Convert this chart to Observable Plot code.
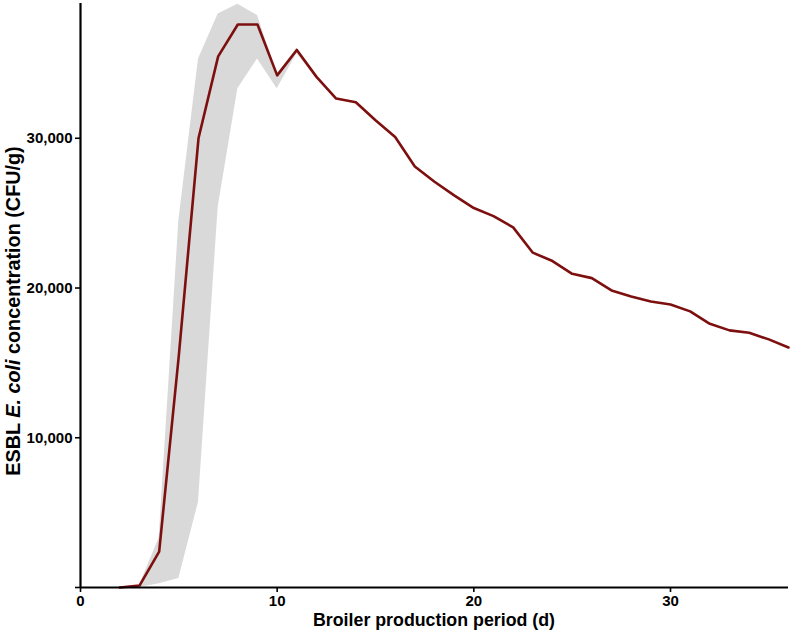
<!DOCTYPE html>
<html>
<head>
<meta charset="utf-8">
<script src="https://cdn.jsdelivr.net/npm/d3@7"></script>
<script src="https://cdn.jsdelivr.net/npm/@observablehq/plot@0.6"></script>
<style>
  html, body { margin: 0; padding: 0; background: #fff; }
  svg { display: block; }
</style>
</head>
<body>
<div id="chart"></div>
<script>
// Broiler production day
const days = [2,3,4,5,6,7,8,9,10,11,12,13,14,15,16,17,18,19,20,21,22,23,24,25,26,27,28,29,30,31,32,33,34,35,36];
// Mean ESBL E. coli concentration (CFU/g)
const conc = [0,130,2400,15500,30000,35470,37600,37600,34200,35900,34100,32650,32400,31200,30080,28120,27100,26190,25340,24800,24050,22360,21800,20950,20660,19840,19440,19100,18900,18440,17610,17170,17010,16570,16030];

// Uncertainty band
const bandDays = [2,3,4,5,6,7,8,9,10,11,12];
const bandLow  = [0,0,250,600,5700,25400,33300,35300,33300,35650,34000];
const bandHigh = [0,150,3300,24500,35300,38300,38950,38200,34300,36000,34200];

const xTicks = [0,10,20,30];
const yTicks = [0,10000,20000,30000];

const lineData = days.map((d,i) => ({day: d, value: conc[i]}));
const bandData = bandDays.map((d,i) => ({day: d, lo: bandLow[i], hi: bandHigh[i]}));

const fmt = d3.format(",");

const plot = Plot.plot({
  width: 792,
  height: 632,
  marginLeft: 80,
  marginRight: 4,
  marginTop: 3,
  marginBottom: 45,
  style: {fontFamily: "'Liberation Sans', Arial, sans-serif", fontSize: "15px", fontWeight: "bold", color: "black", background: "white"},
  x: {domain: [0, 36]},
  y: {domain: [0, 39000]},
  marks: [
    Plot.areaY(bandData, {x: "day", y1: "lo", y2: "hi", fill: "#d9d9d9"}),
    Plot.lineY(lineData, {x: "day", y: "value", stroke: "#7e0f0f", strokeWidth: 2.6}),
    Plot.axisX({ticks: xTicks, tickSize: 5, tickPadding: 3, strokeWidth: 1.6, fontSize: 15, fontWeight: "bold", label: null}),
    Plot.axisY({ticks: yTicks, tickSize: 5, tickPadding: 3, strokeWidth: 1.6, fontSize: 15, fontWeight: "bold", label: null, tickFormat: d => d === 0 ? "" : fmt(d)}),
    Plot.ruleY([0], {stroke: "black", strokeWidth: 2.2}),
    Plot.ruleX([0], {stroke: "black", strokeWidth: 2.2})
  ]
});

const svg = d3.select(plot);
// enlarge tick labels
svg.selectAll("text")
  .attr("font-size", 15)
  .style("font-size", "15px")
  .style("font-weight", "bold")
  .style("font-family", "'Liberation Sans', Arial, sans-serif");
svg.selectAll("g").filter(function() { return this.getAttribute("font-size"); }).attr("font-size", 15);

svg.append("text")
  .attr("x", (80 + 788) / 2)
  .attr("y", 626)
  .attr("text-anchor", "middle")
  .style("font-size", "17.8px")
  .style("font-weight", "bold")
  .style("font-family", "'Liberation Sans', Arial, sans-serif")
  .attr("fill", "black")
  .text("Broiler production period (d)");

const yt = svg.append("text")
  .attr("transform", "translate(20,311) rotate(-90)")
  .attr("text-anchor", "middle")
  .style("font-size", "19.8px")
  .style("font-weight", "bold")
  .style("font-family", "'Liberation Sans', Arial, sans-serif")
  .attr("fill", "black");
yt.append("tspan").text("ESBL ");
yt.append("tspan").attr("font-style", "italic").text("E. coli");
yt.append("tspan").text(" concentration (CFU/g)");

document.getElementById("chart").appendChild(plot);
</script>
</body>
</html>
